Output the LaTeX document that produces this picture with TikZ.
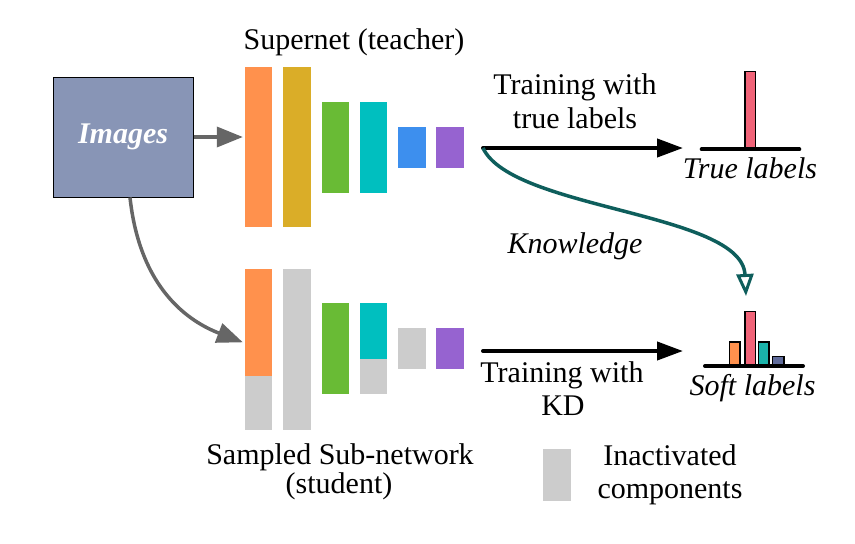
\documentclass[tikz,border=0pt]{standalone}
\usepackage{fontspec}
\newfontfamily\tms{Liberation Serif}
\usetikzlibrary{arrows.meta}
\definecolor{corange}{HTML}{FF914D}
\definecolor{cgold}{HTML}{DAAD28}
\definecolor{cgreen}{HTML}{69BB35}
\definecolor{ccyan}{HTML}{00BFBF}
\definecolor{cblue}{HTML}{3D8FEE}
\definecolor{cpurple}{HTML}{9663D0}
\definecolor{cgray}{HTML}{CCCCCC}
\definecolor{cimg}{HTML}{8895B6}
\definecolor{cpink}{HTML}{F06378}
\definecolor{cteal}{HTML}{1AB3AA}
\definecolor{cnavy}{HTML}{5F6B9A}
\definecolor{cdark}{HTML}{0E5E5C}
\definecolor{carrow}{HTML}{666666}
\begin{document}
\begin{tikzpicture}[x=1pt,y=-1pt,
  every node/.style={inner sep=0pt},
  lbl/.style={anchor=base, font=\fontsize{30}{34}\selectfont\tms},
  itl/.style={anchor=base, font=\fontsize{30}{34}\selectfont\tms\itshape},
  bar/.style={rectangle, inner sep=0pt, minimum width=27.3pt, draw=none},
  grayarrow/.style={draw=carrow, line width=3.5pt, -{Triangle[length=26pt,width=20pt]}},
  blackarrow/.style={draw=black, line width=4pt, line cap=round, -{Triangle[length=26pt,width=18pt]}},
  tealarrow/.style={draw=cdark, line width=3.5pt, -{Triangle[open,length=22pt,width=17pt,line width=3pt]}},
  axis/.style={line width=4pt, line cap=round},
  hbar/.style={draw=black, line width=1.5pt}
]
\useasboundingbox (0,0) rectangle (855,544);

% Images box
\node[draw=black, line width=1pt, fill=cimg, minimum width=140pt, minimum height=120pt,
      text=white, font=\fontsize{30}{34}\selectfont\tms\bfseries\itshape] (img) at (123,137) {Images};

% top bars (teacher)
\node[bar, fill=corange, minimum height=159.4pt] (t1) at (258.7,147) {};
\node[bar, fill=cgold,   minimum height=159.4pt] (t2) at (297,147) {};
\node[bar, fill=cgreen,  minimum height=90.7pt]  (t3) at (335.3,147.3) {};
\node[bar, fill=ccyan,   minimum height=90.7pt]  (t4) at (373.7,147.3) {};
\node[bar, fill=cblue,   minimum height=41pt]    (t5) at (412,147.2) {};
\node[bar, fill=cpurple, minimum height=41pt]    (t6) at (450,147.2) {};

% bottom bars (student)
\node[bar, fill=corange, minimum height=106.7pt] (b1) at (258.7,322.3) {};
\node[bar, fill=cgray,   minimum height=54.3pt]  (b1g) at (258.7,402.8) {};
\node[bar, fill=cgray,   minimum height=161pt]   (b2) at (297,349.5) {};
\node[bar, fill=cgreen,  minimum height=91pt]    (b3) at (335.3,348.8) {};
\node[bar, fill=ccyan,   minimum height=55.4pt]  (b4) at (373.7,331) {};
\node[bar, fill=cgray,   minimum height=35.6pt]  (b4g) at (373.7,376.5) {};
\node[bar, fill=cgray,   minimum height=41pt]    (b5) at (412,348.8) {};
\node[bar, fill=cpurple, minimum height=41pt]    (b6) at (450,348.8) {};

% labels
\node[lbl] (sup) at (354,49.3) {Supernet (teacher)};
\node[lbl] (sam1) at (340,464.3) {Sampled Sub-network};
\node[lbl] (sam2) at (339,493.5) {(student)};

% arrows from images
\draw[grayarrow] (img.east) -- ([xshift=-2pt]img.east -| t1.west);
\draw[grayarrow] ([xshift=7pt]img.south) .. controls (140,290) and (190,322) .. ([xshift=-2pt,yshift=-20pt]b1.west);

% split point and label ends
\coordinate (split) at (483,148);
\coordinate (tend) at (683,148);
\coordinate (send) at (683,351);
\coordinate (sstart) at (483,351);
\coordinate (ktip) at (746,296);

\draw[blackarrow] (split) -- (tend);
\draw[blackarrow] (sstart) -- (send);
\draw[tealarrow] (split) .. controls (512,210) and (742,212) .. (ktip);

\node[lbl] (tw1) at (575,94.3) {Training with};
\node[lbl] (tw2) at (575,128.3) {true labels};
\node[itl] (know) at (575,253) {Knowledge};
\node[lbl] (kd1) at (562,382) {Training with};
\node[lbl] (kd2) at (563,415) {KD};

% true labels chart
\draw[hbar, fill=cpink] (745,71.7) rectangle (755.7,149);
\draw[axis] (701.7,149.3) -- (799.3,149.3);
\node[itl] (tl) at (750,178) {True labels};

% soft labels chart
\draw[hbar, fill=corange] (729.3,342) rectangle (740,366);
\draw[hbar, fill=cpink] (745,311.7) rectangle (755.5,366);
\draw[hbar, fill=cteal] (758.3,342) rectangle (769,366);
\draw[hbar, fill=cnavy] (772.7,356.7) rectangle (784,366);
\draw[axis] (705,366) -- (803,366);
\node[itl] (sl) at (752.5,395) {Soft labels};

% legend
\node[bar, fill=cgray, minimum width=28pt, minimum height=52pt] (leg) at (556.7,475) {};
\node[lbl] (in1) at (670,465.7) {Inactivated};
\node[lbl] (in2) at (670,498) {components};
\end{tikzpicture}
\end{document}
